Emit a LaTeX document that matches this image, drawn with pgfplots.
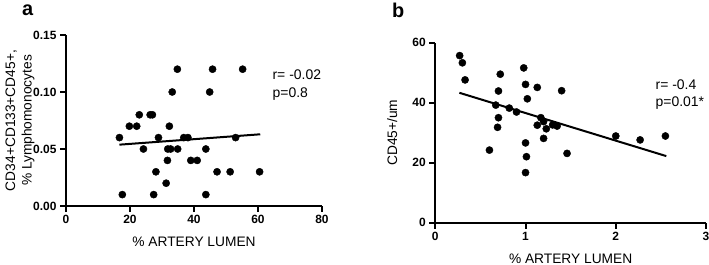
\documentclass[border=0pt]{standalone}
\usepackage{fontspec}
\setmainfont{Liberation Sans}
\usepackage{pgfplots}
\pgfplotsset{compat=1.18}
\begin{document}
\begin{tikzpicture}
\path[use as bounding box] (0bp,0bp) rectangle (709bp,265bp);
\pgfplotsset{
  myax/.style={scale only axis, axis x line*=bottom, axis y line*=left,
    axis line style={line width=2.3bp, black, -},
    every tick/.style={line width=2bp, black},
    tick align=outside, major tick length=6bp,
    ticklabel style={font=\fontsize{12}{13}\selectfont\bfseries},
    /pgf/number format/assume math mode=true,
    label style={font=\fontsize{13.8}{16.5}\selectfont},
    xlabel style={at={(axis description cs:0.5,0)}, anchor=north, inner sep=0pt, yshift=-31bp},
    ylabel style={at={(axis description cs:0,0.5)}, anchor=center, align=center},
    clip=false,
    scaled ticks=false,
  },
  dots/.style={only marks, mark=*, mark size=3.6bp, black},
  fit/.style={black, line width=2bp, no marks},
}
\begin{axis}[myax, at={(66bp,59bp)}, anchor=south west, width=256bp, height=171bp,
  xmin=0, xmax=80, ymin=0, ymax=0.15,
  xtick={0,20,40,60,80}, ytick={0,0.05,0.10,0.15},
  yticklabel style={/pgf/number format/.cd, fixed, fixed zerofill, precision=2},
  xlabel={\% ARTERY LUMEN},
  ylabel={CD34+CD133+CD45+,\\\% Lymphomonocytes},
  ylabel style={yshift=46bp}]
\addplot[dots] coordinates {
(34.8,0.12)(45.8,0.12)(55.2,0.12)(33.2,0.10)(44.9,0.10)(22.9,0.08)(26.3,0.08)(27.0,0.08)
(19.8,0.07)(22.1,0.07)(32.3,0.07)(16.7,0.06)(28.9,0.06)(36.8,0.06)(38.1,0.06)(53.0,0.06)
(24.2,0.05)(31.8,0.05)(32.7,0.05)(34.9,0.05)(43.7,0.05)(31.7,0.04)(39.0,0.04)(41.0,0.04)
(28.1,0.03)(47.2,0.03)(51.3,0.03)(60.5,0.03)(31.3,0.02)(17.6,0.01)(27.4,0.01)(43.7,0.01)};
\addplot[fit] coordinates {(16.7,0.0538)(60.7,0.0629)};
\node[anchor=north west, align=left, inner sep=0pt, font=\fontsize{14}{17.5}\selectfont] at (axis cs:64.5,0.1195) {r= -0.02\\p=0.8};
\end{axis}
\begin{axis}[myax, at={(435.3bp,42.3bp)}, anchor=south west, width=270.7bp, height=180bp,
  xmin=0, xmax=3, ymin=0, ymax=60,
  xtick={0,1,2,3}, ytick={0,20,40,60},
  xlabel={\% ARTERY LUMEN},
  ylabel={CD45+/um},
  ylabel style={yshift=43bp}]
\addplot[dots] coordinates {
(0.27,55.7)(0.30,53.3)(0.33,47.6)(0.72,49.5)(0.98,51.6)(1.00,46.1)(1.13,45.1)(1.40,44.0)
(0.70,43.9)(1.02,41.3)(0.67,39.2)(0.82,38.2)(0.90,36.9)(0.70,35.0)(1.17,35.0)(1.20,33.7)
(0.69,31.8)(1.13,32.5)(1.23,31.3)(1.30,32.6)(1.35,32.2)(1.20,28.1)(2.00,28.9)(2.27,27.6)
(2.55,28.9)(0.60,24.2)(1.00,26.6)(1.46,23.1)(1.01,22.0)(1.00,16.7)};
\addplot[fit] coordinates {(0.267,43.3)(2.56,22.2)};
\node[anchor=north west, align=left, inner sep=0pt, font=\fontsize{14}{17.5}\selectfont] at (axis cs:2.44,47.8) {r= -0.4\\p=0.01*};
\end{axis}
\node[anchor=north west, inner sep=0pt, font=\fontsize{20}{22}\selectfont\bfseries] at (22bp,260bp) {a};
\node[anchor=north west, inner sep=0pt, font=\fontsize{20}{22}\selectfont\bfseries] at (392bp,262bp) {b};
\end{tikzpicture}
\end{document}
